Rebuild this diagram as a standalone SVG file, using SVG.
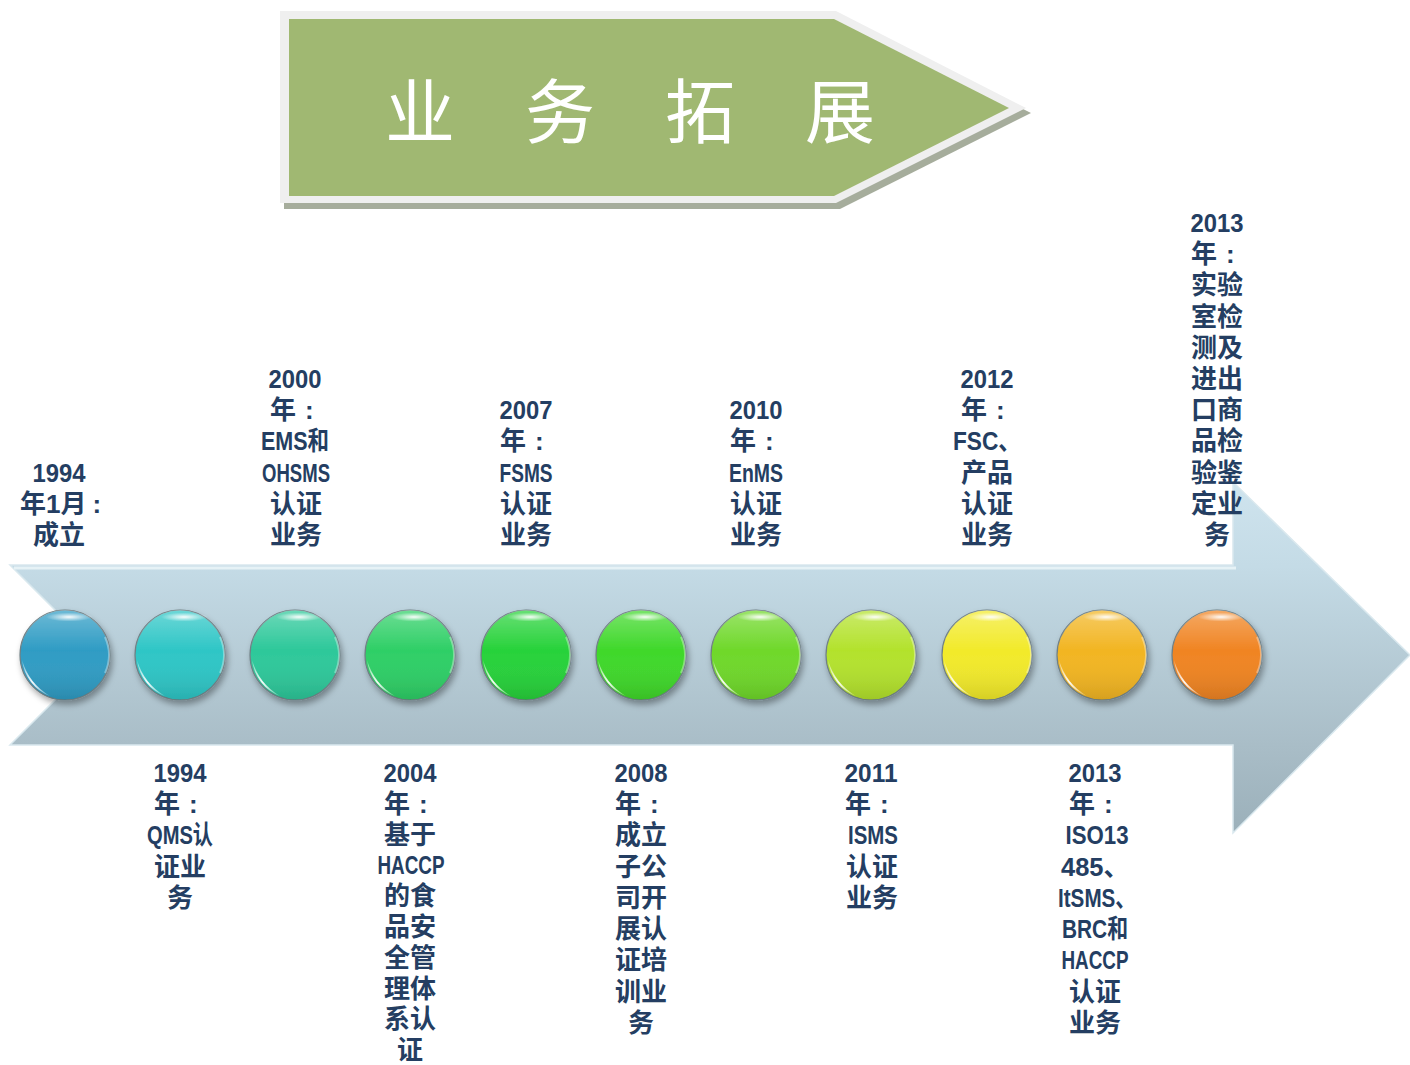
<svg xmlns="http://www.w3.org/2000/svg" width="1410" height="1065" viewBox="0 0 1410 1065">
<defs>
<style>
.lbl{font-family:"Liberation Sans","Noto Sans CJK SC",sans-serif;font-weight:700;font-size:26px;fill:#243e62;text-anchor:middle}
.s{text-anchor:start}
.title{font-family:"Noto Sans CJK SC","Noto Sans CJK JP",sans-serif;font-size:70px;fill:#ffffff;text-anchor:middle}
.ball{stroke:#6f7f84;stroke-width:1.2}
</style>
<linearGradient id="arrowG" gradientUnits="userSpaceOnUse" x1="0" y1="482" x2="0" y2="833">
<stop offset="0" stop-color="#cfe4ee"/>
<stop offset="0.24" stop-color="#c4dbe6"/>
<stop offset="0.75" stop-color="#a9bdc7"/>
<stop offset="1" stop-color="#9bb0ba"/>
</linearGradient>
<linearGradient id="shade" x1="0" y1="0" x2="0" y2="1">
<stop offset="0" stop-color="#ffffff" stop-opacity="0.3"/>
<stop offset="0.45" stop-color="#ffffff" stop-opacity="0"/>
<stop offset="1" stop-color="#000000" stop-opacity="0.12"/>
</linearGradient>
<radialGradient id="topHi" cx="0.5" cy="0.5" r="0.5">
<stop offset="0" stop-color="#ffffff" stop-opacity="0.95"/>
<stop offset="1" stop-color="#ffffff" stop-opacity="0"/>
</radialGradient>
<linearGradient id="crescent" x1="0" y1="0" x2="1" y2="1">
<stop offset="0" stop-color="#ffffff" stop-opacity="0.3"/>
<stop offset="0.5" stop-color="#ffffff" stop-opacity="0.95"/>
<stop offset="1" stop-color="#ffffff" stop-opacity="0.2"/>
</linearGradient>
<filter id="ds" x="-30%" y="-30%" width="160%" height="160%">
<feDropShadow dx="2" dy="4" stdDeviation="3" flood-color="#000000" flood-opacity="0.35"/>
</filter>
<g id="gloss">
<circle r="45" fill="url(#shade)"/>
<ellipse cx="4" cy="-38" rx="23" ry="4.5" fill="url(#topHi)"/>
<path d="M -43 5 A 44 44 0 0 0 -15 41 A 62 62 0 0 1 -43 5 Z" fill="url(#crescent)"/>
<path d="M 40 -18 A 44 44 0 0 1 40 18" fill="none" stroke="#ffffff" stroke-opacity="0.35" stroke-width="2"/>
</g>
</defs>

<rect width="1410" height="1065" fill="#ffffff"/>

<g id="banner">
<polygon points="284,16 840,16 1031,113 840,209 284,209" fill="#a6ad9c"/>
<polygon points="280,11 836,11 1026,108 836,203 280,203" fill="#efefef"/>
<polygon points="289,19 834,19 1009,108 834,196 289,196" fill="#a0b872"/>
<text class="title" x="420 560 700 840" y="138">业务拓展</text>
</g>

<g id="timeline">
<polygon points="10,565 1233,565 1233,482 1410,655 1233,833 1233,745 10,745 100,655" fill="url(#arrowG)" stroke="#d9e8ee" stroke-width="1.5"/>
<polyline points="14,568 1236,568" fill="none" stroke="#e6f2f6" stroke-width="3"/>
</g>

<g id="nodes">
<g id="n1" filter="url(#ds)"><circle class="ball" cx="65" cy="655" r="45" fill="#2f9cc4"/><use href="#gloss" x="65" y="655"/></g>
<g id="n2" filter="url(#ds)"><circle class="ball" cx="180" cy="655" r="45" fill="#2ec6c6"/><use href="#gloss" x="180" y="655"/></g>
<g id="n3" filter="url(#ds)"><circle class="ball" cx="295" cy="655" r="45" fill="#2dc89a"/><use href="#gloss" x="295" y="655"/></g>
<g id="n4" filter="url(#ds)"><circle class="ball" cx="410" cy="655" r="45" fill="#2ecf66"/><use href="#gloss" x="410" y="655"/></g>
<g id="n5" filter="url(#ds)"><circle class="ball" cx="526" cy="655" r="45" fill="#27d23a"/><use href="#gloss" x="526" y="655"/></g>
<g id="n6" filter="url(#ds)"><circle class="ball" cx="641" cy="655" r="45" fill="#3fd82a"/><use href="#gloss" x="641" y="655"/></g>
<g id="n7" filter="url(#ds)"><circle class="ball" cx="756" cy="655" r="45" fill="#6fd82a"/><use href="#gloss" x="756" y="655"/></g>
<g id="n8" filter="url(#ds)"><circle class="ball" cx="871" cy="655" r="45" fill="#b3e22c"/><use href="#gloss" x="871" y="655"/></g>
<g id="n9" filter="url(#ds)"><circle class="ball" cx="987" cy="655" r="45" fill="#f2ea2a"/><use href="#gloss" x="987" y="655"/></g>
<g id="n10" filter="url(#ds)"><circle class="ball" cx="1102" cy="655" r="45" fill="#f2b522"/><use href="#gloss" x="1102" y="655"/></g>
<g id="n11" filter="url(#ds)"><circle class="ball" cx="1217" cy="655" r="45" fill="#f08422"/><use href="#gloss" x="1217" y="655"/></g>
</g>

<g id="labels-top">
<g id="t1994">
<text class="lbl" x="59" y="482" textLength="53" lengthAdjust="spacingAndGlyphs">1994</text>
<text class="lbl s" x="20" y="513">年1月<tspan dx="6">:</tspan></text>
<text class="lbl" x="59" y="544">成立</text>
</g>
<g id="t2000">
<text class="lbl" x="295" y="388" textLength="53" lengthAdjust="spacingAndGlyphs">2000</text>
<text class="lbl s" x="270" y="419">年<tspan dx="9">:</tspan></text>
<text class="lbl" x="295" y="450" textLength="68" lengthAdjust="spacingAndGlyphs">EMS和</text>
<text class="lbl" x="296" y="482" textLength="68" lengthAdjust="spacingAndGlyphs">OHSMS</text>
<text class="lbl" x="296" y="513">认证</text>
<text class="lbl" x="296" y="544">业务</text>
</g>
<g id="t2007">
<text class="lbl" x="526" y="419" textLength="53" lengthAdjust="spacingAndGlyphs">2007</text>
<text class="lbl s" x="500" y="450">年<tspan dx="9">:</tspan></text>
<text class="lbl" x="526" y="482" textLength="53" lengthAdjust="spacingAndGlyphs">FSMS</text>
<text class="lbl" x="526" y="513">认证</text>
<text class="lbl" x="526" y="544">业务</text>
</g>
<g id="t2010">
<text class="lbl" x="756" y="419" textLength="53" lengthAdjust="spacingAndGlyphs">2010</text>
<text class="lbl s" x="730" y="450">年<tspan dx="9">:</tspan></text>
<text class="lbl" x="756" y="482" textLength="54" lengthAdjust="spacingAndGlyphs">EnMS</text>
<text class="lbl" x="756" y="513">认证</text>
<text class="lbl" x="756" y="544">业务</text>
</g>
<g id="t2012">
<text class="lbl" x="987" y="388" textLength="53" lengthAdjust="spacingAndGlyphs">2012</text>
<text class="lbl s" x="961" y="419">年<tspan dx="9">:</tspan></text>
<text class="lbl" x="987" y="450" textLength="68" lengthAdjust="spacingAndGlyphs">FSC、</text>
<text class="lbl" x="987" y="482">产品</text>
<text class="lbl" x="987" y="513">认证</text>
<text class="lbl" x="987" y="544">业务</text>
</g>
<g id="t2013a">
<text class="lbl" x="1217" y="232" textLength="53" lengthAdjust="spacingAndGlyphs">2013</text>
<text class="lbl s" x="1191" y="263">年<tspan dx="9">:</tspan></text>
<text class="lbl" x="1217" y="294">实验</text>
<text class="lbl" x="1217" y="326">室检</text>
<text class="lbl" x="1217" y="357">测及</text>
<text class="lbl" x="1217" y="388">进出</text>
<text class="lbl" x="1217" y="419">口商</text>
<text class="lbl" x="1217" y="450">品检</text>
<text class="lbl" x="1217" y="482">验鉴</text>
<text class="lbl" x="1217" y="513">定业</text>
<text class="lbl" x="1217" y="544">务</text>
</g>
</g>

<g id="labels-bottom">
<g id="b1994">
<text class="lbl" x="180" y="782" textLength="53" lengthAdjust="spacingAndGlyphs">1994</text>
<text class="lbl s" x="154" y="813">年<tspan dx="9">:</tspan></text>
<text class="lbl" x="180" y="844" textLength="66" lengthAdjust="spacingAndGlyphs">QMS认</text>
<text class="lbl" x="180" y="876">证业</text>
<text class="lbl" x="180" y="907">务</text>
</g>
<g id="b2004">
<text class="lbl" x="410" y="782" textLength="53" lengthAdjust="spacingAndGlyphs">2004</text>
<text class="lbl s" x="384" y="812.8">年<tspan dx="9">:</tspan></text>
<text class="lbl" x="410" y="843.6">基于</text>
<text class="lbl" x="411" y="874.4" textLength="67" lengthAdjust="spacingAndGlyphs">HACCP</text>
<text class="lbl" x="410" y="905.2">的食</text>
<text class="lbl" x="410" y="936">品安</text>
<text class="lbl" x="410" y="966.8">全管</text>
<text class="lbl" x="410" y="997.6">理体</text>
<text class="lbl" x="410" y="1028.4">系认</text>
<text class="lbl" x="410" y="1059.2">证</text>
</g>
<g id="b2008">
<text class="lbl" x="641" y="782" textLength="53" lengthAdjust="spacingAndGlyphs">2008</text>
<text class="lbl s" x="615" y="813">年<tspan dx="9">:</tspan></text>
<text class="lbl" x="641" y="844">成立</text>
<text class="lbl" x="641" y="876">子公</text>
<text class="lbl" x="641" y="907">司开</text>
<text class="lbl" x="641" y="938">展认</text>
<text class="lbl" x="641" y="969">证培</text>
<text class="lbl" x="641" y="1001">训业</text>
<text class="lbl" x="641" y="1032">务</text>
</g>
<g id="b2011">
<text class="lbl" x="871" y="782" textLength="53" lengthAdjust="spacingAndGlyphs">2011</text>
<text class="lbl s" x="845" y="813">年<tspan dx="9">:</tspan></text>
<text class="lbl" x="873" y="844" textLength="50" lengthAdjust="spacingAndGlyphs">ISMS</text>
<text class="lbl" x="872" y="876">认证</text>
<text class="lbl" x="872" y="907">业务</text>
</g>
<g id="b2013">
<text class="lbl" x="1095" y="782" textLength="53" lengthAdjust="spacingAndGlyphs">2013</text>
<text class="lbl s" x="1069" y="813">年<tspan dx="9">:</tspan></text>
<text class="lbl" x="1097" y="844" textLength="63" lengthAdjust="spacingAndGlyphs">ISO13</text>
<text class="lbl" x="1095" y="876" textLength="68" lengthAdjust="spacingAndGlyphs">485、</text>
<text class="lbl" x="1097" y="907" textLength="78" lengthAdjust="spacingAndGlyphs">ItSMS、</text>
<text class="lbl" x="1095" y="938" textLength="66" lengthAdjust="spacingAndGlyphs">BRC和</text>
<text class="lbl" x="1095" y="969" textLength="67" lengthAdjust="spacingAndGlyphs">HACCP</text>
<text class="lbl" x="1095" y="1001">认证</text>
<text class="lbl" x="1095" y="1032">业务</text>
</g>
</g>
</svg>
